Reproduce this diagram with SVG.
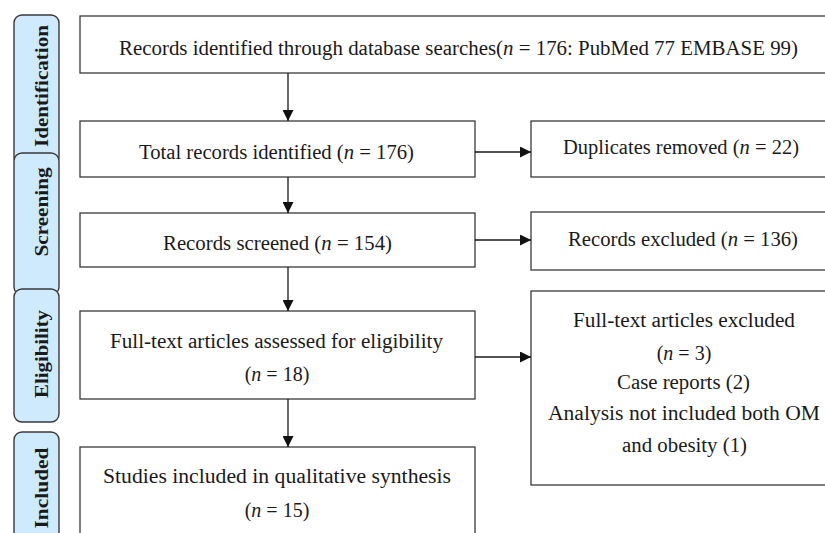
<svg xmlns="http://www.w3.org/2000/svg" width="825" height="533" viewBox="0 0 825 533">
  <style>
    .box { fill: #ffffff; stroke: #3a3a3a; stroke-width: 1.3; }
    .tab { fill: #cfeafd; stroke: #3a3a3a; stroke-width: 1.4; }
    .txt { font-family: "Liberation Serif", "Times New Roman", serif; font-size: 20px; fill: #1a1a1a; }
    .mid { text-anchor: middle; }
    .tabtxt { font-family: "Liberation Serif", "Times New Roman", serif; font-size: 19px; font-weight: bold; fill: #1a1a1a; text-anchor: middle; }
    .it { font-style: italic; }
    .link { fill: none; stroke: #1a1a1a; stroke-width: 1.3; }
  </style>
  <defs>
    <marker id="arrow" markerUnits="userSpaceOnUse" markerWidth="11" markerHeight="11" viewBox="0 0 11 11" refX="11" refY="5.5" orient="auto">
      <path d="M0,0 L11,5.5 L0,11 Z" fill="#111111"/>
    </marker>
  </defs>
  <rect width="825" height="533" fill="#ffffff"/>

  <!-- phase tabs -->
  <g id="tab-identification">
    <rect class="tab" x="14" y="15" width="45" height="150" rx="8"/>
    <text class="tabtxt" transform="translate(47.5,86) rotate(-90)" textLength="122" lengthAdjust="spacingAndGlyphs">Identification</text>
  </g>
  <g id="tab-screening">
    <rect class="tab" x="14" y="153" width="45" height="142" rx="8"/>
    <text class="tabtxt" transform="translate(47.5,212) rotate(-90)" textLength="89" lengthAdjust="spacingAndGlyphs">Screening</text>
  </g>
  <g id="tab-eligibility">
    <rect class="tab" x="14" y="289" width="45" height="133" rx="8"/>
    <text class="tabtxt" transform="translate(47.5,354) rotate(-90)" textLength="88" lengthAdjust="spacingAndGlyphs">Eligibility</text>
  </g>
  <g id="tab-included">
    <rect class="tab" x="14" y="432" width="45" height="120" rx="8"/>
    <text class="tabtxt" transform="translate(47.5,488) rotate(-90)" textLength="81" lengthAdjust="spacingAndGlyphs">Included</text>
  </g>

  <!-- main flow -->
  <g id="records-identified">
    <rect class="box" x="80" y="16" width="760" height="57"/>
    <text class="txt" x="119" y="55" textLength="679" lengthAdjust="spacingAndGlyphs">Records identified through database searches(<tspan class="it">n</tspan> = 176: PubMed 77 EMBASE 99)</text>
  </g>
  <g id="total-records">
    <rect class="box" x="80" y="121" width="395" height="56"/>
    <text class="txt" x="139" y="159" textLength="275" lengthAdjust="spacingAndGlyphs">Total records identified (<tspan class="it">n</tspan> = 176)</text>
  </g>
  <g id="duplicates-removed">
    <rect class="box" x="531" y="121" width="310" height="56"/>
    <text class="txt" x="563" y="154" textLength="236" lengthAdjust="spacingAndGlyphs">Duplicates removed (<tspan class="it">n</tspan> = 22)</text>
  </g>
  <g id="records-screened">
    <rect class="box" x="80" y="213" width="395" height="54"/>
    <text class="txt" x="163" y="250" textLength="229" lengthAdjust="spacingAndGlyphs">Records screened (<tspan class="it">n</tspan> = 154)</text>
  </g>
  <g id="records-excluded">
    <rect class="box" x="531" y="212" width="310" height="58"/>
    <text class="txt" x="568" y="246" textLength="230" lengthAdjust="spacingAndGlyphs">Records excluded (<tspan class="it">n</tspan> = 136)</text>
  </g>
  <g id="fulltext-assessed">
    <rect class="box" x="80" y="311" width="395" height="88"/>
    <text class="txt" x="110" y="348" textLength="333" lengthAdjust="spacingAndGlyphs">Full-text articles assessed for eligibility</text>
    <text class="txt mid" x="277" y="381">(<tspan class="it">n</tspan> = 18)</text>
  </g>
  <g id="fulltext-excluded">
    <rect class="box" x="531" y="291" width="310" height="194"/>
    <text class="txt" x="573" y="327" textLength="222" lengthAdjust="spacingAndGlyphs">Full-text articles excluded</text>
    <text class="txt mid" x="684" y="360">(<tspan class="it">n</tspan> = 3)</text>
    <text class="txt" x="617" y="389" textLength="133" lengthAdjust="spacingAndGlyphs">Case reports (2)</text>
    <text class="txt" x="548" y="420" textLength="272" lengthAdjust="spacingAndGlyphs">Analysis not included both OM</text>
    <text class="txt" x="622" y="452" textLength="125" lengthAdjust="spacingAndGlyphs">and obesity (1)</text>
  </g>
  <g id="studies-included">
    <rect class="box" x="80" y="447" width="395" height="100"/>
    <text class="txt" x="103" y="483" textLength="348" lengthAdjust="spacingAndGlyphs">Studies included in qualitative synthesis</text>
    <text class="txt mid" x="277" y="517">(<tspan class="it">n</tspan> = 15)</text>
  </g>

  <!-- connectors -->
  <g id="connectors">
    <line class="link" x1="288" y1="73" x2="288" y2="121" marker-end="url(#arrow)"/>
    <line class="link" x1="288" y1="177" x2="288" y2="213" marker-end="url(#arrow)"/>
    <line class="link" x1="288" y1="267" x2="288" y2="311" marker-end="url(#arrow)"/>
    <line class="link" x1="288" y1="399" x2="288" y2="447" marker-end="url(#arrow)"/>
    <line class="link" x1="475" y1="152" x2="531" y2="152" marker-end="url(#arrow)"/>
    <line class="link" x1="475" y1="240" x2="531" y2="240" marker-end="url(#arrow)"/>
    <line class="link" x1="475" y1="357" x2="531" y2="357" marker-end="url(#arrow)"/>
  </g>
</svg>
